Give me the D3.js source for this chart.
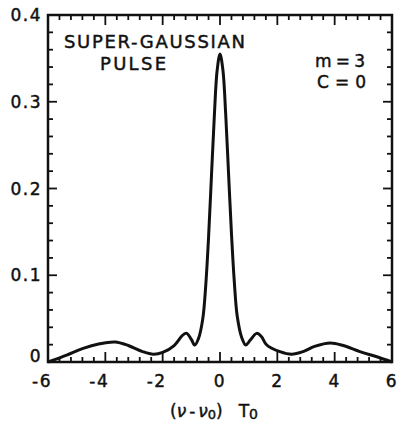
<!DOCTYPE html>
<html>
<head>
<meta charset="utf-8">
<script src="https://cdn.jsdelivr.net/npm/d3@7"></script>
<style>
  body { margin: 0; background: #fff; }
  svg text { font-family: "DejaVu Sans", sans-serif; fill: #111; stroke: #111; stroke-width: 0.45; }
</style>
</head>
<body>
<svg id="chart" width="401" height="424"></svg>
<script>
// spectrum of super-gaussian pulse (m = 3, C = 0)
var freq  = [-6, -5.35, -4.8, -4.2, -3.66, -3.2, -2.7, -2.33, -2.0, -1.6, -1.3, -1.16, -1.0, -0.88, -0.75, -0.6, -0.5, -0.4, -0.3, -0.2, -0.1, 0,
             0.1, 0.2, 0.3, 0.4, 0.5, 0.6, 0.76, 0.9, 1.05, 1.28, 1.45, 1.63, 2.09, 2.5, 2.9, 3.3, 3.85, 4.3, 4.88, 5.47, 6];
var power = [0, 0.008, 0.0155, 0.021, 0.023, 0.019, 0.012, 0.009, 0.011, 0.019, 0.031, 0.033, 0.026, 0.0195, 0.027, 0.05, 0.087, 0.143, 0.213, 0.282, 0.336, 0.355,
             0.337, 0.285, 0.216, 0.148, 0.092, 0.053, 0.028, 0.0195, 0.025, 0.033, 0.029, 0.0196, 0.012, 0.009, 0.012, 0.018, 0.022, 0.019, 0.012, 0.006, 0];

var xTicks = [-6, -4, -2, 0, 2, 4, 6];
var yTicks = [0, 0.1, 0.2, 0.3, 0.4];
var yTickLabels = ["0", "0.1", "0.2", "0.3", "0.4"];

var svg = d3.select("#chart");
var ink = "#111";

var x = d3.scaleLinear().domain([-6, 6]).range([48, 392]);
var y = d3.scaleLinear().domain([0, 0.4]).range([362, 15]);

// minor ticks
var xMinor = d3.range(-6, 6.001, 0.4).map(v => Math.round(v * 10) / 10);
var yMinor = d3.range(0, 0.4001, 0.02).map(v => Math.round(v * 100) / 100);

function isMajorX(v) { return Math.abs(v % 2) < 1e-6; }
function isMajorY(v) { return Math.abs(Math.round(v * 10) - v * 10) < 1e-6; }

var g = svg.append("g").attr("stroke", ink).attr("stroke-width", 1.8);

// bottom + top ticks (pointing inward)
xMinor.forEach(function (v) {
  var len = isMajorX(v) ? 10 : 5;
  g.append("line").attr("x1", x(v)).attr("x2", x(v)).attr("y1", y(0)).attr("y2", y(0) - len);
  g.append("line").attr("x1", x(v)).attr("x2", x(v)).attr("y1", y(0.4)).attr("y2", y(0.4) + len);
});
// left + right ticks
yMinor.forEach(function (v) {
  var len = isMajorY(v) ? 9 : 5;
  g.append("line").attr("x1", x(-6)).attr("x2", x(-6) + len).attr("y1", y(v)).attr("y2", y(v));
  g.append("line").attr("x1", x(6)).attr("x2", x(6) - len).attr("y1", y(v)).attr("y2", y(v));
});

// frame
svg.append("rect")
  .attr("x", x(-6)).attr("y", y(0.4))
  .attr("width", x(6) - x(-6)).attr("height", y(0) - y(0.4))
  .attr("fill", "none").attr("stroke", ink).attr("stroke-width", 2.5);

// x tick labels, digit centred on the tick
svg.selectAll(".xl").data(xTicks).enter().append("text")
  .attr("class", "xl")
  .attr("x", d => x(d) + (d < 0 ? -6 : 0))
  .attr("y", 387)
  .attr("text-anchor", "middle")
  .attr("font-size", 17)
  .attr("letter-spacing", 1.5)
  .text(d => d);

// y tick labels
svg.selectAll(".yl").data(yTicks).enter().append("text")
  .attr("class", "yl")
  .attr("x", 42)
  .attr("y", (d, i) => y(d) + (i == 0 ? -0.5 : 6))
  .attr("text-anchor", "end")
  .attr("font-size", 17)
  .attr("letter-spacing", 1.5)
  .text((d, i) => yTickLabels[i]);

// curve
var line = d3.line()
  .x((d, i) => x(freq[i]))
  .y(d => y(d))
  .curve(d3.curveCatmullRom.alpha(0.5));

svg.append("path")
  .datum(power)
  .attr("d", line)
  .attr("fill", "none")
  .attr("stroke", ink)
  .attr("stroke-width", 3)
  .attr("stroke-linejoin", "round");

// annotations
svg.append("text").attr("x", 64).attr("y", 48).attr("font-size", 18)
  .attr("textLength", 181).attr("lengthAdjust", "spacing").text("SUPER-GAUSSIAN");
svg.append("text").attr("x", 100).attr("y", 70).attr("font-size", 18)
  .attr("textLength", 66).attr("lengthAdjust", "spacing").text("PULSE");
svg.append("text").attr("x", 315).attr("y", 67).attr("font-size", 17)
  .attr("textLength", 50).attr("lengthAdjust", "spacing").text("m = 3");
svg.append("text").attr("x", 317).attr("y", 88).attr("font-size", 17)
  .attr("textLength", 49).attr("lengthAdjust", "spacing").text("C = 0");

// axis title  (ν - ν0) T0
var t = svg.append("text").attr("x", 170).attr("y", 417).attr("font-size", 17);
t.append("tspan").text("(");
t.append("tspan").attr("font-style", "italic").text("ν");
t.append("tspan").attr("dx", 3).text("-");
t.append("tspan").attr("dx", 3).attr("font-style", "italic").text("ν");
t.append("tspan").attr("font-size", 13).attr("dy", 2).text("0");
t.append("tspan").attr("dy", -2).text(")");
t.append("tspan").attr("dx", 16).text("T");
t.append("tspan").attr("font-size", 14).attr("dy", 2).text("0");
</script>
</body>
</html>
